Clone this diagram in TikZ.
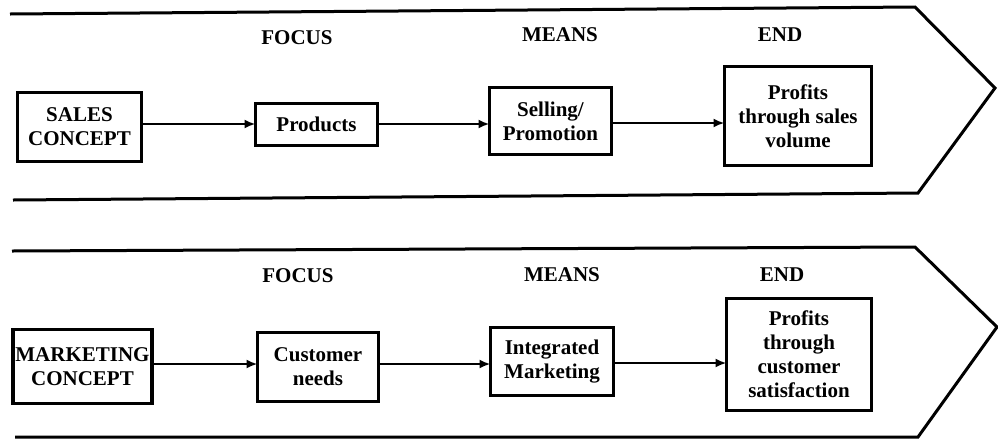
\documentclass[tikz,border=0pt]{standalone}
\usepackage{fontspec}
\setmainfont{Liberation Serif}
\usetikzlibrary{arrows.meta}
\begin{document}
\begin{tikzpicture}[x=1pt,y=-1pt,
  txt/.style={font=\fontsize{21}{24}\selectfont\bfseries, align=center},
  stage/.style={txt, draw, line width=3.2pt, inner sep=0pt, outer sep=0pt},
  head/.style={txt, inner sep=0pt},
  band/.style={line width=3pt, line join=miter},
  arr/.style={line width=2.5pt, -{Latex[length=11pt,width=9pt]}}]
\useasboundingbox (0,0) rectangle (998,440);

% upper band: sales concept
\draw[band] (10,14) -- (915,7) -- (995,88) -- (918,193) -- (13,200);
\node[head] (f1) at (297,38) {FOCUS};
\node[head] (m1) at (560,35) {MEANS};
\node[head] (e1) at (780,35) {END};
\node[stage, minimum width=124pt, minimum height=69pt] (sales) at (79.5,127) {SALES\\CONCEPT};
\node[stage, minimum width=122pt, minimum height=42pt] (prod) at (316.5,124.5) {Products};
\node[stage, minimum width=122pt, minimum height=67pt] (sell) at (550.5,121) {Selling/\\Promotion};
\node[stage, minimum width=147pt, minimum height=99pt] (prof1) at (798,116) {Profits\\through sales\\volume};
\draw[arr] (sales.east |- 0,124) -- (prod.west |- 0,124);
\draw[arr] (prod.east |- 0,124) -- (sell.west |- 0,124);
\draw[arr] (sell.east |- 0,123) -- (prof1.west |- 0,123);

% lower band: marketing concept
\draw[band] (12,251) -- (915,247) -- (997,327) -- (918,437) -- (15,437);
\node[head] (f2) at (298,276) {FOCUS};
\node[head] (m2) at (562,275) {MEANS};
\node[head] (e2) at (782,275) {END};
\node[stage, minimum width=139pt, minimum height=74pt] (mkt) at (82.5,366.5) {MARKETING\\CONCEPT};
\node[stage, minimum width=121pt, minimum height=69pt] (cust) at (318,367) {Customer\\needs};
\node[stage, minimum width=123pt, minimum height=68pt] (integ) at (552,361.5) {Integrated\\Marketing};
\node[stage, minimum width=145pt, minimum height=112pt] (prof2) at (799,354.5) {Profits\\through\\customer\\satisfaction};
\draw[arr] (mkt.east |- 0,364) -- (cust.west |- 0,364);
\draw[arr] (cust.east |- 0,364) -- (integ.west |- 0,364);
\draw[arr] (integ.east |- 0,363) -- (prof2.west |- 0,363);
\end{tikzpicture}
\end{document}
